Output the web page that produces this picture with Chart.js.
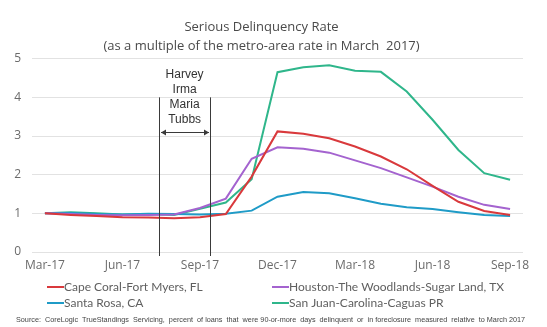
<!DOCTYPE html>
<html>
<head>
<meta charset="utf-8">
<script src="https://cdn.jsdelivr.net/npm/chart.js@4.4.1/dist/chart.umd.min.js"></script>
<style>
  html, body { margin: 0; padding: 0; background: #ffffff; }
  #wrap { position: relative; width: 547px; height: 327px; }
</style>
</head>
<body>
<div id="wrap"><canvas id="c" width="547" height="327"></canvas></div>
<script>
// ---- data ----
const months = ['Mar-17','Apr-17','May-17','Jun-17','Jul-17','Aug-17','Sep-17','Oct-17','Nov-17','Dec-17',
                'Jan-18','Feb-18','Mar-18','Apr-18','May-18','Jun-18','Jul-18','Aug-18','Sep-18'];
const capeCoral = [1.00,0.96,0.93,0.90,0.89,0.87,0.90,0.98,1.95,3.12,3.06,2.94,2.73,2.47,2.14,1.71,1.30,1.06,0.96];
const houston   = [1.00,0.98,0.96,0.95,0.96,0.97,1.14,1.38,2.41,2.71,2.67,2.57,2.37,2.17,1.93,1.69,1.43,1.22,1.11];
const santaRosa = [1.00,1.01,0.98,0.97,0.99,0.98,0.97,0.99,1.07,1.43,1.55,1.52,1.39,1.25,1.16,1.11,1.03,0.96,0.93];
const sanJuan   = [1.00,1.03,1.00,0.97,0.98,0.96,1.12,1.28,1.88,4.65,4.78,4.83,4.69,4.66,4.15,3.42,2.64,2.04,1.87];
const seriesNames = ['Cape Coral-Fort Myers, FL','Houston-The Woodlands-Sugar Land, TX','Santa Rosa, CA','San Juan-Carolina-Caguas PR'];
const yTicks = [0,1,2,3,4,5];
const eventNames = ['Harvey','Irma','Maria','Tubbs'];
const eventStart = 4.41, eventEnd = 6.40;   // fractional month index of the hurricane/fire window
const titleLines = ['Serious Delinquency Rate','(as a multiple of the metro-area rate in March  2017)'];
const sourceText = 'Source:  CoreLogic  TrueStandings  Servicing,  percent  of loans  that  were 90-or-more  days  delinquent  or  in foreclosure  measured  relative  to March 2017';

const colors = ['#d9393c','#a463cf','#1f9bc7','#2fb68b'];
const textGray = '#6b6b6b';
const mainFont = "'Open Sans', 'DejaVu Sans', sans-serif";
const legendFont = "Lato, 'Open Sans', sans-serif";

const overlay = {
  id: 'overlay',
  afterDatasetsDraw(chart) {
    const ctx = chart.ctx;
    const xs = chart.scales.x, ys = chart.scales.y;
    const step = xs.getPixelForValue(1) - xs.getPixelForValue(0);
    const px = v => xs.getPixelForValue(Math.floor(v)) + (v - Math.floor(v)) * step;
    const x1 = px(eventStart), x2 = px(eventEnd);
    const yTop = ys.getPixelForValue(4.0), yBot = ys.getPixelForValue(0) + 4;
    ctx.save();
    ctx.strokeStyle = '#3a3a3a';
    ctx.lineWidth = 1;
    ctx.beginPath();
    ctx.moveTo(Math.round(x1)+0.5, yTop); ctx.lineTo(Math.round(x1)+0.5, yBot);
    ctx.moveTo(Math.round(x2)+0.5, yTop); ctx.lineTo(Math.round(x2)+0.5, yBot);
    ctx.stroke();
    // arrow
    const ya = Math.round(ys.getPixelForValue(3.1)) + 0.5;
    const a1 = Math.round(x1) + 2, a2 = Math.round(x2) - 1;
    ctx.beginPath();
    ctx.moveTo(a1, ya); ctx.lineTo(a2, ya); ctx.stroke();
    ctx.fillStyle = '#3a3a3a';
    ctx.beginPath(); ctx.moveTo(a1, ya); ctx.lineTo(a1+5, ya-3); ctx.lineTo(a1+5, ya+3); ctx.closePath(); ctx.fill();
    ctx.beginPath(); ctx.moveTo(a2, ya); ctx.lineTo(a2-5, ya-3); ctx.lineTo(a2-5, ya+3); ctx.closePath(); ctx.fill();
    // event text
    ctx.font = "12px 'Liberation Sans', Arial, sans-serif";
    ctx.fillStyle = '#333';
    ctx.textAlign = 'center';
    ctx.textBaseline = 'middle';
    const cx = (x1 + x2) / 2;
    const t0 = ys.getPixelForValue(4.58);
    eventNames.forEach((n, i) => ctx.fillText(n, cx, t0 + i * 15));
    ctx.restore();
  },
  afterDraw(chart) {
    const ctx = chart.ctx;
    ctx.save();
    // legend (two columns)
    ctx.font = "12px " + legendFont;
    ctx.textBaseline = 'middle';
    ctx.textAlign = 'left';
    const cols = [47, 272], rows = [287, 303];
    chart.data.datasets.forEach((ds, i) => {
      const cx = cols[i % 2], cy = rows[Math.floor(i / 2)];
      ctx.strokeStyle = ds.borderColor;
      ctx.lineWidth = 2;
      ctx.beginPath(); ctx.moveTo(cx, cy); ctx.lineTo(cx + 17, cy); ctx.stroke();
      ctx.fillStyle = '#5f5f5f';
      ctx.fillText(ds.label, cx + 17, cy);
    });
    // source
    const targetW = 509;
    ctx.font = "8px 'Liberation Sans', Arial, sans-serif";
    const w = ctx.measureText(sourceText).width;
    const fs = 8 * targetW / w;
    ctx.font = fs.toFixed(2) + "px 'Liberation Sans', Arial, sans-serif";
    ctx.fillStyle = '#444';
    ctx.fillText(sourceText, 16, 320);
    ctx.restore();
  }
};

new Chart(document.getElementById('c'), {
  type: 'line',
  data: {
    labels: months,
    datasets: [capeCoral, houston, santaRosa, sanJuan].map((d, i) => ({
      label: seriesNames[i],
      data: d,
      borderColor: colors[i],
      backgroundColor: colors[i],
      borderWidth: 2,
      pointRadius: 0,
      tension: 0,
      fill: false
    }))
  },
  options: {
    responsive: false,
    animation: false,
    layout: { padding: { left: 0, right: 24, top: 0, bottom: 51 } },
    plugins: {
      legend: { display: false },
      tooltip: { enabled: false },
      title: {
        display: true,
        text: titleLines,
        color: '#4a4a4a',
        font: { family: mainFont, size: 13, weight: 'normal', lineHeight: 1.45 },
        padding: { top: 18, bottom: 3 }
      }
    },
    scales: {
      x: {
        type: 'category',
        offset: true,
        grid: { display: false, drawTicks: false },
        border: { display: false },
        afterFit(s) { s.height = 24; },
        ticks: {
          autoSkip: false,
          maxRotation: 0,
          color: textGray,
          padding: 6,
          font: { family: mainFont, size: 12 },
          callback(v, i) { return i % 3 === 0 ? months[i] : ''; }
        }
      },
      y: {
        min: 0, max: 5,
        afterFit(s) { s.width = 32; },
        afterBuildTicks(s) { s.ticks = yTicks.map(v => ({ value: v })); },
        grid: { color: '#e2e2e2', lineWidth: 1, drawTicks: false },
        border: { display: false },
        ticks: { color: textGray, padding: 11, font: { family: mainFont, size: 12 } }
      }
    }
  },
  plugins: [overlay]
});
</script>
</body>
</html>
